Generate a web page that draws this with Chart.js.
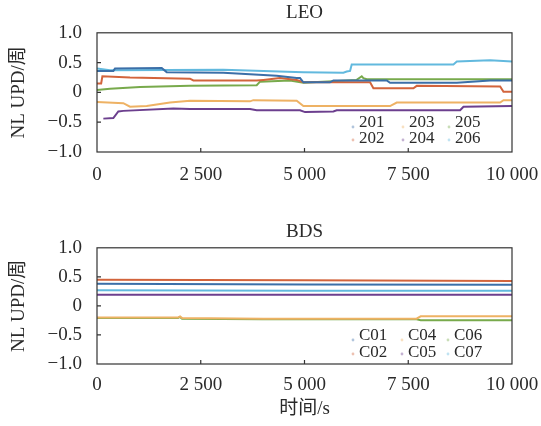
<!DOCTYPE html>
<html><head><meta charset="utf-8">
<script src="https://cdn.jsdelivr.net/npm/chart.js@4.4.0/dist/chart.umd.min.js"></script>
<style>
html,body{margin:0;padding:0;background:#fff;}
#wrap{position:relative;width:541px;height:426px;overflow:hidden;}
canvas{position:absolute;left:0;}
</style></head><body>
<div id="wrap"><canvas id="leo" width="541" height="200" style="top:0"></canvas><canvas id="bds" width="541" height="226" style="top:200px"></canvas></div>
<script>
// ---- tick labels ----
const xTickValues = [0, 2500, 5000, 7500, 10000];
const xTickLabels = ['0', '2 500', '5 000', '7 500', '10 000'];
const yTickValues = [-1, -0.5, 0, 0.5, 1];
const yTickLabels = ['−1.0', '−0.5', '0', '0.5', '1.0'];

// ---- LEO series ----
const leoLabels = ['201', '202', '203', '204', '205', '206'];
const t201 = [0, 394, 434, 1559, 1679, 3045, 4330, 4812, 4892, 4973, 5615, 5696, 6981, 7062, 8670, 9473, 10000];
const v201 = [0.36, 0.36, 0.40, 0.41, 0.34, 0.33, 0.28, 0.24, 0.24, 0.17, 0.17, 0.20, 0.20, 0.16, 0.16, 0.20, 0.20];
const t202 = [0, 100, 130, 795, 2241, 2322, 3848, 4009, 4410, 4812, 4973, 6580, 6660, 7624, 7705, 9714, 9795, 10000];
const v202 = [0.15, 0.15, 0.27, 0.25, 0.23, 0.20, 0.20, 0.21, 0.24, 0.21, 0.17, 0.17, 0.07, 0.07, 0.11, 0.10, 0.01, 0.01];
const t203 = [0, 634, 795, 1197, 1759, 2241, 3687, 3768, 4812, 4973, 7062, 7222, 9714, 9795, 10000];
const v203 = [-0.16, -0.18, -0.24, -0.23, -0.17, -0.14, -0.15, -0.13, -0.14, -0.23, -0.23, -0.17, -0.17, -0.13, -0.13];
const t204 = [153, 394, 514, 634, 1840, 2241, 3687, 3848, 4892, 5013, 5696, 5776, 8750, 8830, 10000];
const v204 = [-0.44, -0.43, -0.32, -0.31, -0.27, -0.28, -0.28, -0.30, -0.30, -0.33, -0.32, -0.30, -0.30, -0.24, -0.23];
const t205 = [0, 313, 1036, 2241, 3848, 3928, 4651, 4973, 6258, 6380, 6419, 6499, 10000];
const v205 = [0.04, 0.06, 0.09, 0.11, 0.12, 0.18, 0.20, 0.16, 0.21, 0.27, 0.24, 0.22, 0.22];
const t206 = [0, 313, 3045, 4973, 5937, 6017, 6098, 6138, 8589, 8670, 9473, 10000];
const v206 = [0.40, 0.37, 0.38, 0.34, 0.33, 0.35, 0.36, 0.47, 0.47, 0.52, 0.54, 0.52];

// ---- BDS series ----
const bdsLabels = ['C01', 'C02', 'C04', 'C05', 'C06', 'C07'];
const tC01 = [0, 5000, 10000];
const vC01 = [0.38, 0.37, 0.365];
const tC02 = [0, 5000, 10000];
const vC02 = [0.45, 0.44, 0.43];
const tC04 = [0, 1950, 2000, 2050, 4000, 7700, 7800, 10000];
const vC04 = [-0.20, -0.20, -0.18, -0.21, -0.22, -0.22, -0.18, -0.18];
const tC05 = [0, 5000, 10000];
const vC05 = [0.19, 0.19, 0.19];
const tC06 = [0, 1950, 2000, 2050, 4000, 7700, 7800, 10000];
const vC06 = [-0.21, -0.21, -0.19, -0.22, -0.23, -0.23, -0.245, -0.245];
const tC07 = [0, 5000, 10000];
const vC07 = [0.27, 0.26, 0.26];

const seriesColors = ['#3b6fa8', '#d2643c', '#eeb264', '#6c3f8e', '#78aa4c', '#62b9de'];
const FONT = "'Liberation Serif', 'Times New Roman', 'Noto Sans CJK SC', serif";
const TXT = '#2a2a2a';

const leoSeries = [[t201, v201], [t202, v202], [t203, v203], [t204, v204], [t205, v205], [t206, v206]];
const bdsSeries = [[tC01, vC01], [tC02, vC02], [tC04, vC04], [tC05, vC05], [tC06, vC06], [tC07, vC07]];

function toPoints(ts, vs) { return ts.map((t, i) => ({x: t, y: vs[i]})); }

const framePlugin = {
  id: 'frame',
  afterDatasetsDraw(chart) {
    const {ctx, chartArea: {left, right, top, bottom}, scales: {x, y}} = chart;
    ctx.save();
    ctx.strokeStyle = '#333';
    ctx.lineWidth = 1.2;
    ctx.strokeRect(left, top, right - left, bottom - top);
    ctx.beginPath();
    xTickValues.slice(1, -1).forEach(v => { const p = x.getPixelForValue(v); ctx.moveTo(p, bottom); ctx.lineTo(p, bottom - 4); });
    yTickValues.slice(1, -1).forEach(v => { const p = y.getPixelForValue(v); ctx.moveTo(left, p); ctx.lineTo(left + 4, p); });
    ctx.stroke();
    ctx.restore();
  }
};

const legendPlugin = {
  id: 'cornerLegend',
  afterDraw(chart, args, opts) {
    const ctx = chart.ctx;
    ctx.save();
    ctx.font = '17px ' + FONT;
    ctx.textBaseline = 'middle';
    ctx.textAlign = 'left';
    chart.data.datasets.forEach((ds, i) => {
      const col = Math.floor(i / 2), row = i % 2;
      const tx = opts.cols[col], ty = opts.rows[row];
      ctx.globalAlpha = 0.4;
      ctx.fillStyle = ds.borderColor;
      ctx.beginPath();
      ctx.arc(tx - 6, ty + (row === 0 ? 4 : 1), 1.4, 0, Math.PI * 2);
      ctx.fill();
      ctx.globalAlpha = 1;
      ctx.fillStyle = TXT;
      ctx.fillText(ds.label, tx, ty);
    });
    ctx.restore();
  }
};

function makeChart(id, titleText, labels, series, cfg) {
  return new Chart(document.getElementById(id), {
    type: 'line',
    data: {
      datasets: series.map((s, i) => ({
        label: labels[i],
        data: toPoints(s[0], s[1]),
        borderColor: seriesColors[i],
        borderWidth: 2,
        pointRadius: 0,
        tension: 0,
        fill: false
      }))
    },
    options: {
      responsive: false,
      animation: false,
      layout: {padding: {left: 0, right: 29, top: 0, bottom: 0}},
      plugins: {
        legend: {display: false},
        tooltip: {enabled: false},
        title: {display: true, text: titleText, fullSize: false, color: TXT,
          font: {family: FONT, size: 19, weight: 'normal'}, padding: cfg.titlePad},
        cornerLegend: {cols: cfg.legendCols, rows: cfg.legendRows}
      },
      scales: {
        x: {
          type: 'linear', min: 0, max: 10000,
          grid: {display: false, drawTicks: false},
          border: {display: false},
          ticks: {stepSize: 2500, autoSkip: false, maxRotation: 0, padding: cfg.xPad, color: TXT,
            font: {family: FONT, size: 19},
            callback: v => { const k = xTickValues.indexOf(v); return k >= 0 ? xTickLabels[k] : ''; }},
          title: cfg.xTitle ? {display: true, text: cfg.xTitle, color: TXT, font: {family: FONT, size: 19}, padding: {top: 0, bottom: 6}} : {display: false},
          afterFit: s => { s.height = cfg.xHeight; s.paddingLeft = 0; s.paddingRight = 0; }
        },
        y: {
          min: -1, max: 1,
          grid: {display: false, drawTicks: false},
          border: {display: false},
          ticks: {stepSize: 0.5, padding: 15, color: TXT, font: {family: FONT, size: 19},
            callback: v => { const k = yTickValues.findIndex(t => Math.abs(t - v) < 1e-9); return k >= 0 ? yTickLabels[k] : ''; }},
          title: {display: true, text: 'NL UPD/周', color: TXT, font: {family: FONT, size: 19}, padding: {top: 8, bottom: 0}},
          afterFit: s => { s.width = 97; }
        }
      }
    },
    plugins: [framePlugin, legendPlugin]
  });
}

makeChart('leo', 'LEO', leoLabels, leoSeries, {
  titlePad: {top: 2, bottom: 8}, xPad: 12, xHeight: 48,
  legendCols: [359, 409, 455], legendRows: [123, 139]
});
makeChart('bds', 'BDS', bdsLabels, bdsSeries, {
  titlePad: {top: 21, bottom: 4}, xPad: 10, xHeight: 62, xTitle: '时间/s',
  legendCols: [359, 408, 454], legendRows: [136, 153]
});
</script>
</body></html>
